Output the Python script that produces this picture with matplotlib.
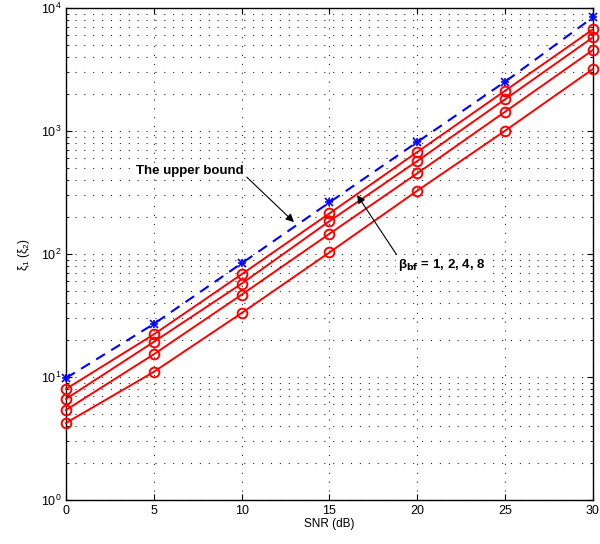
import numpy as np
import matplotlib.pyplot as plt
from matplotlib.ticker import LogLocator, NullFormatter

# ----------------------------------
# Data
# ----------------------------------
SNR_DB = [0, 5, 10, 15, 20, 25, 30]

UPPER_BOUND = [9.8, 27.0, 84.0, 263, 814, 2518, 8400]

XI_BETA = {
    8: [7.99, 22.2, 68.4, 214, 675, 2127, 6710],
    4: [6.63, 19.3, 57.4, 185, 570, 1811, 5780],
    2: [5.39, 15.3, 46.7, 146, 453, 1435, 4560],
    1: [4.23, 11.0, 33.1, 103, 327, 1005, 3193],
}

X_TICKS = [0, 5, 10, 15, 20, 25, 30]

plt.rcParams['font.family'] = ['Liberation Sans', 'DejaVu Sans']
plt.rcParams['mathtext.default'] = 'regular'


def main():
    fig = plt.figure(figsize=(6.0, 5.44), dpi=100)
    ax = fig.add_axes([0.11, 0.081, 0.878, 0.904])

    # upper bound: dashed blue with asterisk markers (+ and x overlaid)
    ax.semilogy(SNR_DB, UPPER_BOUND, color='blue', linestyle=(0, (5, 3.5)),
                linewidth=1.5, zorder=3)
    for mk in ('+', 'x'):
        ax.semilogy(SNR_DB, UPPER_BOUND, color='blue', linestyle='none',
                    marker=mk, markersize=6, markeredgewidth=1.2,
                    zorder=4, clip_on=False)

    for beta, vals in XI_BETA.items():
        ax.semilogy(SNR_DB, vals, color='red', linestyle='-', linewidth=1.4,
                    marker='o', markersize=7, markerfacecolor='none',
                    markeredgewidth=1.4, zorder=3, clip_on=False)

    ax.set_xlim(0, 30)
    ax.set_ylim(1, 1e4)
    ax.set_xticks(X_TICKS)
    ax.yaxis.set_major_locator(LogLocator(base=10, numticks=10))
    ax.yaxis.set_minor_locator(LogLocator(base=10, subs=np.arange(2, 10), numticks=20))
    ax.yaxis.set_minor_formatter(NullFormatter())

    grid_style = dict(color='0.15', linestyle=(0, (1, 7)), linewidth=0.8)
    ax.grid(True, which='major', axis='both', **grid_style)
    ax.grid(True, which='minor', axis='y', **grid_style)

    ax.tick_params(which='both', direction='in', top=True, right=True,
                   labelsize=9)
    ax.tick_params(which='major', length=4)
    ax.tick_params(which='minor', length=2)
    for sp in ax.spines.values():
        sp.set_linewidth(1.0)

    ax.set_xlabel('SNR (dB)', fontsize=8.5, labelpad=1)
    ax.set_ylabel(r'$\xi_1$ ($\xi_2$)', fontsize=8.5, labelpad=6)

    # annotations
    ax.annotate('The upper bound', xy=(12.98, 182), xytext=(3.98, 473),
                fontsize=9.5, fontweight='bold', va='center', ha='left',
                bbox=dict(boxstyle='square,pad=0.15', fc='white', ec='none'),
                arrowprops=dict(arrowstyle='-|>', color='black', lw=0.8,
                                shrinkA=0, shrinkB=0, mutation_scale=12,
                                relpos=(1.03, 0.0)))

    ax.annotate(r'$\beta_{\mathbf{bf}}$ = 1, 2, 4, 8', xy=(16.58, 302),
                xytext=(18.9, 82), fontsize=9.5, fontweight='bold',
                va='center', ha='left',
                bbox=dict(boxstyle='square,pad=0.15', fc='white', ec='none'),
                arrowprops=dict(arrowstyle='-|>', color='black', lw=0.8,
                                shrinkA=0, shrinkB=0, mutation_scale=12,
                                relpos=(0.0, 1.0)))

    fig.savefig('out.png', dpi=100)


if __name__ == "__main__":
    main()
